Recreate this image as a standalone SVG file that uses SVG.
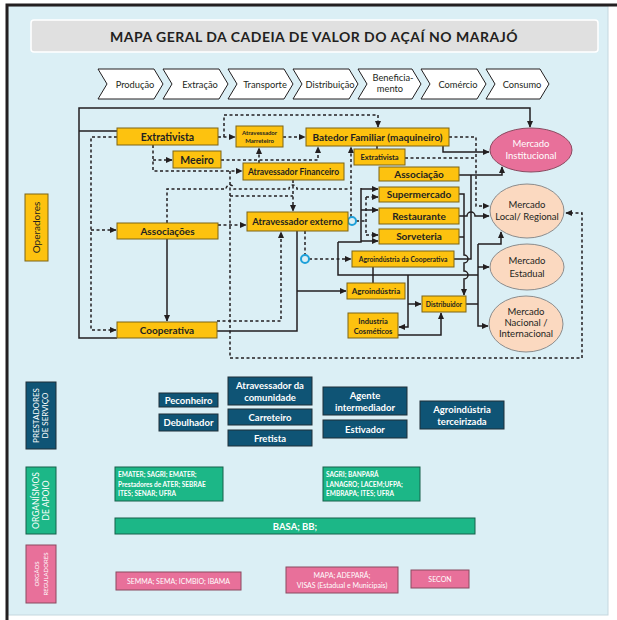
<svg xmlns="http://www.w3.org/2000/svg" width="617" height="620" viewBox="0 0 617 620">
<defs>
<marker id="ar" viewBox="0 0 10 10" refX="9" refY="5" markerWidth="7" markerHeight="7" markerUnits="userSpaceOnUse" orient="auto"><path d="M0,0.5 L10,5 L0,9.5 z" fill="#231f20"/></marker>
<style>
text{font-family:Lato,'Liberation Sans',sans-serif}
.y rect{fill:#fdc20f;stroke:#7d6516;stroke-width:1}
.y text{fill:#231f20;font-weight:bold;text-anchor:middle}
.s{fill:none;stroke:#231f20;stroke-width:1.5}
.d{fill:none;stroke:#231f20;stroke-width:1.5;stroke-dasharray:3 2.5}
.ar{marker-end:url(#ar)}
.bl rect{fill:#0f5475;stroke:#1f2f38}
.bl text{fill:#fff;font-weight:bold;text-anchor:middle;font-size:9.5px}
.gr rect{fill:#1cb787;stroke:#17614a}
.gr text{fill:#fff;font-weight:bold;font-size:6.5px}
.pk rect{fill:#e8709a;stroke:#8a4a60}
.pk text{fill:#fff;font-size:7px;text-anchor:middle}
.ch polygon{fill:#fff;stroke:#231f20;stroke-width:1}
.ch text{font-size:9.3px;text-anchor:middle;fill:#231f20}
.mk ellipse{fill:#fbd9c0;stroke:#8c8c8c}
.mk text{font-size:9.5px;text-anchor:middle;fill:#231f20}
.hop{fill:none;stroke:#1ea0d9;stroke-width:2}
</style>
</defs>
<rect x="0" y="0" width="617" height="620" fill="#fff"/>
<rect x="8" y="6" width="600" height="609" fill="#dbeff5" stroke="#c5d7de"/>
<path d="M7,620 V5 H617" fill="none" stroke="#231f20" stroke-width="3"/>
<g id="title">
<rect x="31" y="20" width="567" height="32" rx="3" fill="#e0e0e0" stroke="#fff" stroke-width="1.5"/>
<text x="314" y="41.5" font-size="14" font-weight="bold" letter-spacing="0.5" text-anchor="middle" fill="#231f20">MAPA GERAL DA CADEIA DE VALOR DO AÇAÍ NO MARAJÓ</text>
</g>
<g id="stages" class="ch">
<polygon points="98,69 154,69 163,84 154,99 98,99 107,84"/><text x="135" y="87.5">Produção</text>
<polygon points="163,69 219,69 228,84 219,99 163,99 172,84"/><text x="200" y="87.5">Extração</text>
<polygon points="228,69 284,69 293,84 284,99 228,99 237,84"/><text x="265" y="87.5">Transporte</text>
<polygon points="293,69 349,69 358,84 349,99 293,99 302,84"/><text x="330" y="87.5">Distribuição</text>
<polygon points="358,69 412,69 421,84 412,99 358,99 367,84"/><text x="393" y="81">Beneficia-</text><text x="390" y="92">mento</text>
<polygon points="421,69 477,69 486,84 477,99 421,99 430,84"/><text x="458" y="87.5">Comércio</text>
<polygon points="486,69 540,69 549,84 540,99 486,99 495,84"/><text x="522" y="87.5">Consumo</text>
</g>
<g id="connectors">
<path class="s" d="M117,131 H79"/>
<path class="s ar" d="M117,338 H79 V108 H530 V127"/>
<path class="s ar" d="M167,239 V321"/>
<path class="s" d="M217,331 H297 V231"/>
<path class="s ar" d="M297,291 H346"/>
<path class="s ar" d="M443,146 V152 H489"/>
<path class="s" d="M377,146 V149"/>
<path class="s ar" d="M459,175 H502 V167"/>
<path class="s" d="M454,259 H471 V175"/>
<path class="s ar" d="M459,194 H464 V255 a4,4 0 0 1 0,8 V271 a4,4 0 0 1 0,8 V295"/>
<path class="s" d="M459,237 H464"/>
<path class="s ar" d="M459,216 H467 a4,4 0 0 1 8,0 H489"/>
<path class="s" d="M338,242 V275 H478"/>
<path class="s ar" d="M478,244 H501 V232"/>
<path class="s ar" d="M478,244 V326 H488"/>
<path class="s ar" d="M478,267 H489"/>
<path class="s" d="M466,304 H478"/>
<path class="s" d="M338,242 H361 V188"/>
<path class="s ar" d="M361,189 H378"/>
<path class="s ar" d="M361,210 H378"/>
<path class="s ar" d="M361,241 H378"/>
<path class="s" d="M373,267 V283"/>
<path class="s ar" d="M408,275 V327 H399"/>
<path class="s ar" d="M408,304 H421"/>
<path class="s ar" d="M398,335 H441 V313"/>
<path class="d ar" d="M117,137 H91 V330 H116"/>
<path class="d ar" d="M91,230 H116"/>
<path class="d ar" d="M218,137 H235"/>
<path class="d ar" d="M224,137 V115 H378 V127"/>
<path class="d ar" d="M283,137 H305"/>
<path class="d ar" d="M153,145 V171 H242"/>
<path class="d ar" d="M153,160 H172"/>
<path class="d ar" d="M221,160 H318 V147"/>
<path class="d ar" d="M259,163 V148"/>
<path class="d ar" d="M293,180 V211"/>
<path class="d ar" d="M230,171 V358 H582 V213 H566"/>
<path class="d" d="M230,196 H293"/>
<path class="d" d="M167,223 V189 H226 a4,4 0 0 1 8,0 H289 a4,4 0 0 1 8,0 H350"/>
<path class="d ar" d="M351,217 V147"/>
<path class="d ar" d="M218,225 H246"/>
<path class="d ar" d="M217,321 H281 V232"/>
<path class="d ar" d="M305,231 V255 M309,259 H351"/>
<path class="d" d="M356,221 H366"/>
<path class="d" d="M366,197 V235"/>
<path class="d ar" d="M366,197 H378"/>
<path class="d ar" d="M366,235 H378"/>
<path class="d ar" d="M449,137 H476 V206 H489"/>
<path class="d" d="M405,158 H476"/>
<circle class="hop" cx="352" cy="221" r="4"/>
<circle class="hop" cx="305" cy="259" r="4"/>
</g>
<g id="lbl-operadores" class="y"><rect x="25" y="194" width="23" height="67"/><text transform="translate(40,227.5) rotate(-90)" font-size="10" style="font-weight:normal">Operadores</text></g>
<g id="n-extrativista" class="y"><rect x="117" y="128" width="101" height="17"/><text x="167.5" y="140.5" font-size="10.5">Extrativista</text></g>
<g id="n-marreteiro" class="y"><rect x="236" y="126" width="47" height="21"/><text x="259.5" y="135" font-size="6">Atravessador</text><text x="259.5" y="143" font-size="6">Marreteiro</text></g>
<g id="n-batedor" class="y"><rect x="306" y="128" width="143" height="18"/><text x="377.5" y="141" font-size="10">Batedor Familiar (maquineiro)</text></g>
<g id="n-meeiro" class="y"><rect x="173" y="151" width="48" height="17"/><text x="197" y="163.5" font-size="10.5">Meeiro</text></g>
<g id="n-financeiro" class="y"><rect x="243" y="163" width="101" height="17"/><text x="293.5" y="175" font-size="8.5">Atravessador Financeiro</text></g>
<g id="n-externo" class="y"><rect x="247" y="212" width="101" height="19"/><text x="297.5" y="225" font-size="9.5">Atravessador externo</text></g>
<g id="n-associacoes" class="y"><rect x="117" y="223" width="101" height="16"/><text x="167.5" y="234.5" font-size="10">Associações</text></g>
<g id="n-cooperativa" class="y"><rect x="117" y="322" width="100" height="16"/><text x="167" y="333.5" font-size="10">Cooperativa</text></g>
<g id="n-extrativista2" class="y"><rect x="354" y="149" width="51" height="16"/><text x="379.5" y="160" font-size="7.5">Extrativista</text></g>
<g id="n-associacao" class="y"><rect x="379" y="167" width="80" height="14"/><text x="419" y="177.5" font-size="10">Associação</text></g>
<g id="n-supermercado" class="y"><rect x="379" y="187" width="80" height="15"/><text x="419" y="198" font-size="10">Supermercado</text></g>
<g id="n-restaurante" class="y"><rect x="379" y="208" width="80" height="16"/><text x="419" y="219.5" font-size="10">Restaurante</text></g>
<g id="n-sorveteria" class="y"><rect x="379" y="229" width="80" height="15"/><text x="419" y="240" font-size="10">Sorveteria</text></g>
<g id="n-agrocoop" class="y"><rect x="352" y="251" width="102" height="16"/><text x="403" y="261.5" font-size="6.8">Agroindústria da Cooperativa</text></g>
<g id="n-agroindustria" class="y"><rect x="347" y="283" width="58" height="16"/><text x="376" y="294" font-size="8">Agroindústria</text></g>
<g id="n-distribuidor" class="y"><rect x="422" y="296" width="44" height="16"/><text x="444" y="306.5" font-size="6.8">Distribuidor</text></g>
<g id="n-cosmeticos" class="y"><rect x="348" y="313" width="50" height="25"/><text x="373" y="323.5" font-size="7.5">Industria</text><text x="373" y="333.5" font-size="7.5">Cosméticos</text></g>
<g id="m-institucional"><ellipse cx="531" cy="150" rx="41" ry="22" fill="#e8709a" stroke="#8a4a60"/><text x="531" y="147" font-size="9.5" text-anchor="middle" fill="#fff">Mercado</text><text x="531" y="159" font-size="9.5" text-anchor="middle" fill="#fff">Institucional</text></g>
<g id="m-local" class="mk"><ellipse cx="527" cy="211" rx="37" ry="27"/><text x="527" y="208" font-size="8.5">Mercado</text><text x="527" y="220" font-size="8.5">Local/ Regional</text></g>
<g id="m-estadual" class="mk"><ellipse cx="527" cy="267" rx="37" ry="23"/><text x="527" y="264" font-size="10">Mercado</text><text x="527" y="277" font-size="10">Estadual</text></g>
<g id="m-nacional" class="mk"><ellipse cx="526" cy="324" rx="37" ry="28"/><text x="526" y="315" font-size="9">Mercado</text><text x="526" y="326" font-size="9">Nacional /</text><text x="526" y="337" font-size="9">Internacional</text></g>
<g id="lbl-prestadores" class="bl"><rect x="26" y="382" width="30" height="67"/><text transform="translate(39,415.5) rotate(-90)" style="font-size:8px;font-weight:normal">PRESTADORES</text><text transform="translate(48,415.5) rotate(-90)" style="font-size:8px;font-weight:normal">DE SERVIÇO</text></g>
<g id="p-peconheiro" class="bl"><rect x="159" y="393" width="59" height="14"/><text x="188.5" y="403.5">Peconheiro</text></g>
<g id="p-debulhador" class="bl"><rect x="159" y="414" width="59" height="17"/><text x="188.5" y="426">Debulhador</text></g>
<g id="p-comunidade" class="bl"><rect x="228" y="377" width="84" height="28"/><text x="270" y="388.5">Atravessador da</text><text x="270" y="400.5">comunidade</text></g>
<g id="p-carreteiro" class="bl"><rect x="228" y="409" width="84" height="16"/><text x="270" y="420.5">Carreteiro</text></g>
<g id="p-fretista" class="bl"><rect x="228" y="430" width="84" height="16"/><text x="270" y="441.5">Fretista</text></g>
<g id="p-agente" class="bl"><rect x="323" y="387" width="84" height="28"/><text x="365" y="398.5">Agente</text><text x="365" y="410.5">intermediador</text></g>
<g id="p-estivador" class="bl"><rect x="323" y="420" width="84" height="18"/><text x="365" y="432.5">Estivador</text></g>
<g id="p-terceirizada" class="bl"><rect x="420" y="401" width="84" height="28"/><text x="462" y="412.5">Agroindústria</text><text x="462" y="424.5">terceirizada</text></g>
<g id="lbl-organismos" class="gr"><rect x="26" y="467" width="30" height="67"/><text transform="translate(39,500.5) rotate(-90)" text-anchor="middle" style="font-size:8.5px;font-weight:normal">ORGANÍSMOS</text><text transform="translate(49,500.5) rotate(-90)" text-anchor="middle" style="font-size:8.5px;font-weight:normal">DE APOIO</text></g>
<g id="o-emater" class="gr"><rect x="115" y="467" width="108" height="34"/><text x="118" y="477">EMATER; SAGRI; EMATER;</text><text x="118" y="486.5">Prestadores de ATER; SEBRAE</text><text x="118" y="496">ITES; SENAR; UFRA</text></g>
<g id="o-sagri" class="gr"><rect x="323" y="467" width="97" height="34"/><text x="326" y="477">SAGRI; BANPARÁ</text><text x="326" y="486.5">LANAGRO; LACEM;UFPA;</text><text x="326" y="496">EMBRAPA; ITES; UFRA</text></g>
<g id="o-basa" class="gr"><rect x="115" y="518" width="360" height="16"/><text x="295" y="529.5" text-anchor="middle" style="font-size:9.5px">BASA; BB;</text></g>
<g id="lbl-reguladores" class="pk"><rect x="26" y="545" width="30" height="58"/><text transform="translate(39,574) rotate(-90)" style="font-size:6px">ORGÃOS</text><text transform="translate(48,574) rotate(-90)" style="font-size:6px">REGULADORES</text></g>
<g id="r-semma" class="pk"><rect x="116" y="572" width="125" height="18"/><text x="178.5" y="583.5">SEMMA; SEMA; ICMBIO; IBAMA</text></g>
<g id="r-mapa" class="pk"><rect x="286" y="567" width="112" height="26"/><text x="342" y="577.5">MAPA; ADEPARÁ;</text><text x="342" y="588">VISAS (Estadual e Municipais)</text></g>
<g id="r-secon" class="pk"><rect x="411" y="570" width="58" height="18"/><text x="440" y="581.5">SECON</text></g>
</svg>
